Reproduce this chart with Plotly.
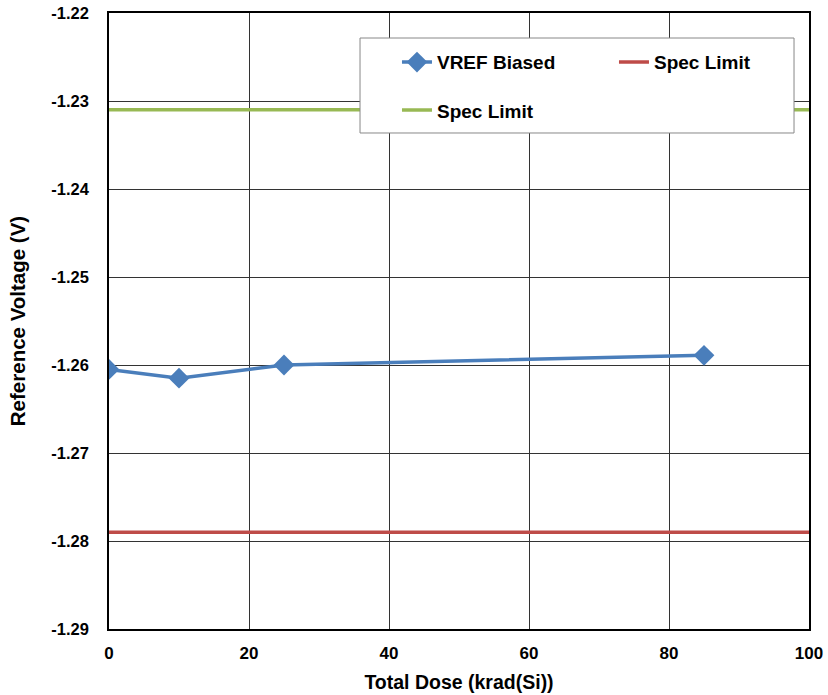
import plotly.graph_objects as go

dose = [0, 10, 25, 85]
vref_biased = [-1.2605, -1.2615, -1.2600, -1.2589]
spec_x = [0, 100]
spec_low = [-1.279, -1.279]
spec_high = [-1.231, -1.231]
y_ticks = [-1.29, -1.28, -1.27, -1.26, -1.25, -1.24, -1.23, -1.22]
y_tick_labels = ["-1.29", "-1.28", "-1.27", "-1.26", "-1.25", "-1.24", "-1.23", "-1.22"]

font = "Liberation Sans, Arial, sans-serif"

fig = go.Figure()
fig.add_trace(go.Scatter(x=dose, y=vref_biased, mode="lines+markers", name="VREF Biased",
                         legend="legend",
                         line=dict(color="#4A7EBB", width=3.5),
                         marker=dict(symbol="diamond", size=16, color="#4A7EBB")))
fig.add_trace(go.Scatter(x=spec_x, y=spec_low, mode="lines", name="Spec Limit",
                         legend="legend",
                         line=dict(color="#BE4B48", width=3.5)))
fig.add_trace(go.Scatter(x=spec_x, y=spec_high, mode="lines", name="Spec Limit",
                         legend="legend2",
                         line=dict(color="#98B954", width=3.5)))

legend_font = dict(family=font, size=19, color="black", weight="bold")

fig.update_layout(
    width=828, height=695,
    margin=dict(l=109, r=19, t=13, b=66, autoexpand=False),
    plot_bgcolor="white", paper_bgcolor="white",
    font=dict(family=font, size=18, color="black"),
    legend=dict(orientation="h", x=0.4114, y=0.951, xanchor="left", yanchor="top",
                entrywidth=172, borderwidth=0, bgcolor="rgba(0,0,0,0)", font=legend_font),
    legend2=dict(orientation="h", x=0.4114, y=0.873, xanchor="left", yanchor="top",
                 entrywidth=172, borderwidth=0, bgcolor="rgba(0,0,0,0)", font=legend_font),
    shapes=[dict(type="rect", xref="paper", yref="paper", x0=0.3586, x1=0.9786,
                 y0=0.8052, y1=0.9594, line=dict(color="#888888", width=1),
                 fillcolor="white", layer="above")],
    xaxis=dict(range=[0, 100], dtick=20, showgrid=True, gridcolor="#333333", gridwidth=1,
               showline=True, linecolor="black", linewidth=1.5, mirror=True, zeroline=False,
               automargin=False, ticklabelstandoff=8, ticklabeloverflow="allow",
               tickfont=dict(size=17, weight="bold"),
               title=dict(text="<b>Total Dose (krad(Si))</b>", font=dict(size=19.5), standoff=13)),
    yaxis=dict(range=[-1.29, -1.22], tickvals=y_ticks, ticktext=y_tick_labels, showgrid=True,
               gridcolor="#333333", gridwidth=1,
               showline=True, linecolor="black", linewidth=1.5, mirror=True, zeroline=False,
               automargin=False, ticklabelstandoff=15, ticklabeloverflow="allow",
               tickfont=dict(size=16.5, weight="bold"),
               title=dict(text="<b>Reference Voltage (V)</b>", font=dict(size=20.5), standoff=20)),
)

fig.write_html("out.html", config={"displayModeBar": False},
               post_script="document.body.style.margin='0px';document.body.style.overflow='hidden';")
